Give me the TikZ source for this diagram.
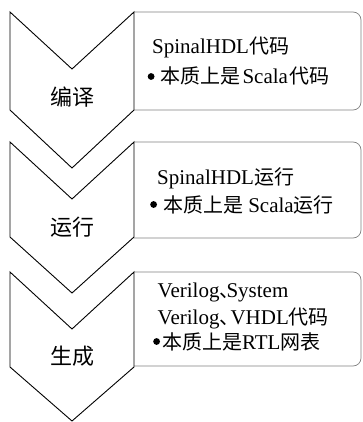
\documentclass[tikz,border=0pt]{standalone}
\usepackage{fontspec}
\setmainfont{Liberation Serif}
\newfontfamily\cjk{Noto Sans CJK SC}
\newcommand\zhtxt[1]{{\fontsize{20}{24}\selectfont\cjk #1}}
\newcommand\bulmark{\tikz[baseline=-7.5pt]\fill[black] (0,0) circle (3.4pt);}
\newcommand\zhcomma{\makebox[7pt][l]{\zhtxt{、}}}
\begin{document}
\begin{tikzpicture}[x=1pt,y=-1pt,
  chev/.style={draw=black,line width=0.9pt,line join=miter,fill=white},
  infobox/.style={draw=black!50,line width=0.7pt,rounded corners=8pt},
  lbl/.style={font=\fontsize{22}{26}\selectfont\cjk,inner sep=0pt},
  txt/.style={font=\fontsize{21}{24}\selectfont,inner sep=0pt,anchor=base west}]
\useasboundingbox (0,0) rectangle (362,422);
% info boxes
\foreach \T/\H in {12/98,142/96,272/94}{
  \draw[infobox] (134,\T) -- (361,\T) -- (361,\T+\H) -- (134,\T+\H);
}
% chevrons
\foreach \T/\S/\P in {12/98/156,142/95/151,272/95/149}{
  \draw[chev] (10,\T) -- (72,\T+57) -- (134,\T) -- (134,\T+\S) -- (72,\T+\P) -- (10,\T+\S) -- cycle;
}
% chevron labels
\node[lbl] (l1) at (72.5,97) {编译};
\node[lbl] (l2) at (72.5,227) {运行};
\node[lbl] (l3) at (72.5,356) {生成};
% box 1
\node[txt] (a1) at (152,54) {SpinalHDL\zhtxt{代码}};
\node[txt] (a2) at (147.5,84) {\bulmark\hspace{6pt}\zhtxt{本质上是}\hspace{2pt}Scala\hspace{2pt}\zhtxt{代码}};
% box 2
\node[txt] (b1) at (157,184) {SpinalHDL\zhtxt{运行}};
\node[txt] (b2) at (150,212) {\bulmark\hspace{6pt}\zhtxt{本质上是} Scala\zhtxt{运行}};
% box 3
\node[txt] (c1) at (157.5,297) {Verilog\zhcomma System};
\node[txt] (c2) at (157.5,324) {Verilog\zhcomma\hspace{4pt}VHDL\zhtxt{代码}};
\node[txt] (c3) at (153,349) {\bulmark\hspace{2pt}\zhtxt{本质上是}RTL\zhtxt{网表}};
\end{tikzpicture}
\end{document}
